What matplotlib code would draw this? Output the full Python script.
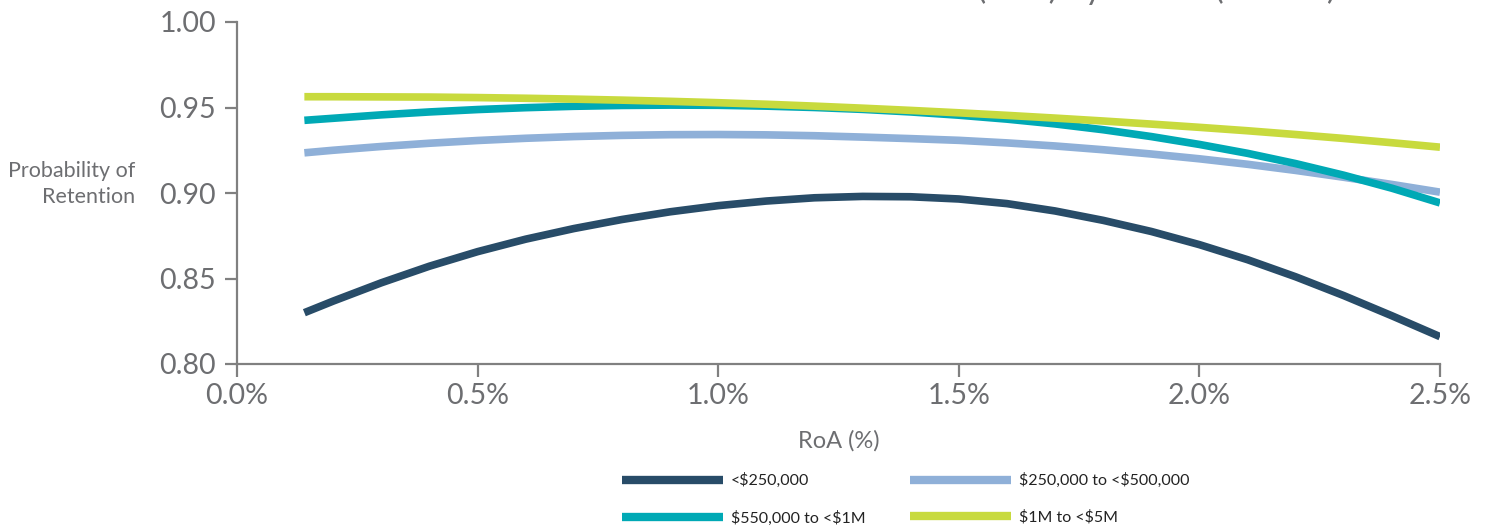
import matplotlib
matplotlib.use("Agg")
import matplotlib.pyplot as plt
from matplotlib.ticker import FuncFormatter

plt.rcParams['font.family'] = ['Lato', 'DejaVu Sans']

# ---- data ----
roa = [0.14, 0.2, 0.3, 0.4, 0.5, 0.6, 0.7, 0.8, 0.9, 1.0, 1.1, 1.2, 1.3,
       1.4, 1.5, 1.6, 1.7, 1.8, 1.9, 2.0, 2.1, 2.2, 2.3, 2.4, 2.5]
lt_250k = [0.8300, 0.8368, 0.8475, 0.8572, 0.8657, 0.8730, 0.8792, 0.8845, 0.8890,
           0.8926, 0.8953, 0.8972, 0.8980, 0.8978, 0.8965, 0.8938, 0.8895, 0.8840,
           0.8775, 0.8698, 0.8610, 0.8510, 0.8400, 0.8282, 0.8160]
k250_500 = [0.9235, 0.9250, 0.9272, 0.9291, 0.9307, 0.9320, 0.9330, 0.9337, 0.9341,
            0.9342, 0.9340, 0.9335, 0.9327, 0.9318, 0.9308, 0.9293, 0.9275, 0.9253,
            0.9228, 0.9200, 0.9168, 0.9132, 0.9092, 0.9050, 0.9005]
k550_1m = [0.9425, 0.9437, 0.9457, 0.9474, 0.9488, 0.9499, 0.9507, 0.9512, 0.9514,
           0.9513, 0.9508, 0.9500, 0.9489, 0.9474, 0.9455, 0.9432, 0.9404, 0.9370,
           0.9330, 0.9284, 0.9232, 0.9172, 0.9104, 0.9028, 0.8942]
m1_5 = [0.9563, 0.9563, 0.9562, 0.9561, 0.9558, 0.9554, 0.9549, 0.9543, 0.9536,
        0.9528, 0.9519, 0.9508, 0.9496, 0.9483, 0.9469, 0.9454, 0.9438, 0.9421,
        0.9403, 0.9384, 0.9364, 0.9342, 0.9319, 0.9294, 0.9268]

series_labels = ["<$250,000", "$250,000 to <$500,000", "$550,000 to <$1M", "$1M to <$5M"]
colors = ["#284c68", "#8fb0d8", "#00a9b5", "#c8da3e"]

x_ticks = [0.0, 0.5, 1.0, 1.5, 2.0, 2.5]
y_ticks = [0.80, 0.85, 0.90, 0.95, 1.00]

title = "Client Retention and Return on Assets (RoA) by Assets (in USD)"

gray = "#6d6e71"
axis_gray = "#808080"

W, H = 1492, 531
fig = plt.figure(figsize=(W / 100, H / 100), dpi=100)
ax = fig.add_axes([237 / W, 1 - 364 / H, (1440 - 237) / W, (364 - 22) / H])

series = [lt_250k, k250_500, k550_1m, m1_5]
handles = []
for vals, lab, c in zip(series, series_labels, colors):
    h, = ax.plot(roa, vals, color=c, lw=5.5, solid_capstyle='butt',
                 solid_joinstyle='round', label=lab.replace('$', r'\$'))
    handles.append(h)

ax.set_xlim(0, 2.5)
ax.set_ylim(0.80, 1.00)
ax.set_xticks(x_ticks)
ax.set_yticks(y_ticks)
ax.xaxis.set_major_formatter(FuncFormatter(lambda v, p: f"{v:.1f}%"))
ax.yaxis.set_major_formatter(FuncFormatter(lambda v, p: f"{v:.2f}"))

for s in ['top', 'right']:
    ax.spines[s].set_visible(False)
for s in ['left', 'bottom']:
    ax.spines[s].set_color(axis_gray)
    ax.spines[s].set_linewidth(1.6)
ax.tick_params(axis='both', colors=axis_gray, width=1.6, length=9,
               labelsize=20.5, labelcolor=gray)
ax.tick_params(axis='x', pad=5)
ax.tick_params(axis='y', pad=6)

ax.set_xlabel("RoA (%)", fontsize=17, color=gray, labelpad=15)
fig.text(135 / W, 1 - 184 / H, "Probability of\nRetention", ha='right', va='center',
         fontsize=15.5, color=gray, linespacing=1.35)

fig.text(872 / W, 1 + 1 / H, title, ha='center', va='baseline', fontsize=24, color=gray)

order = [0, 2, 1, 3]
leg = fig.legend([handles[i] for i in order],
                 [series_labels[i].replace('$', r'\$') for i in order],
                 loc='upper left', bbox_to_anchor=(622 / W, 1 - 473 / H),
                 ncol=2, frameon=False, fontsize=11.5, handlelength=6.3,
                 handletextpad=0.5, columnspacing=2.8, labelspacing=1.4,
                 borderpad=0, borderaxespad=0)
for t in leg.get_texts():
    t.set_color("#222222")
for lh in leg.legend_handles:
    lh.set_linewidth(6)

fig.savefig("out.png", dpi=100)
